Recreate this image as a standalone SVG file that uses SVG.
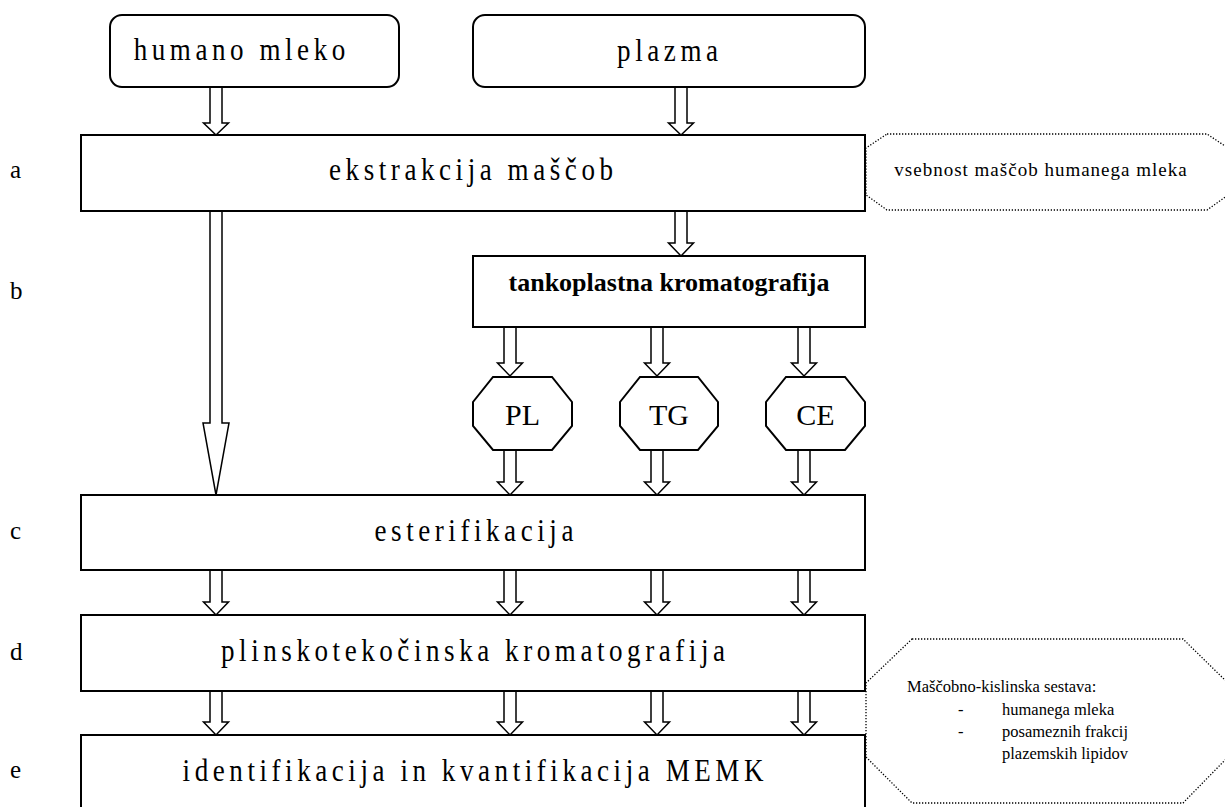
<svg xmlns="http://www.w3.org/2000/svg" width="1225" height="807" viewBox="0 0 1225 807">
<style>
.box{fill:#fff;stroke:#000;stroke-width:2}
.arr{fill:#fff;stroke:#000;stroke-width:1.5;stroke-linejoin:miter}
.note{fill:#fff;stroke:#000;stroke-width:1.3;stroke-dasharray:1.3 1.7}
.big{font-family:"Liberation Serif","Times New Roman",serif;font-size:32px;letter-spacing:5.4px;text-anchor:middle;fill:#000}
.lbl{font-family:"Liberation Serif","Times New Roman",serif;font-size:25px;fill:#000}
.oct{font-family:"Liberation Serif","Times New Roman",serif;font-size:30px;text-anchor:middle;fill:#000}
.bold{font-family:"Liberation Serif","Times New Roman",serif;font-size:26px;font-weight:bold;text-anchor:middle;fill:#000}
.sm{font-family:"Liberation Serif","Times New Roman",serif;font-size:16.5px;fill:#000}
</style>
<rect width="1225" height="807" fill="#fff"/>
<g id="row-labels">
<text class="lbl" x="10" y="178">a</text>
<text class="lbl" x="10" y="299">b</text>
<text class="lbl" x="10" y="539">c</text>
<text class="lbl" x="10" y="660">d</text>
<text class="lbl" x="10" y="778">e</text>
</g>
<g id="connectors">
<polygon class="arr" points="210,87 222,87 222,123 228.5,123 216,135 203.5,123 210,123"/>
<polygon class="arr" points="675,87 687,87 687,123 693.5,123 681,135 668.5,123 675,123"/>
<polygon class="arr" points="675,211 687,211 687,243 693.5,243 681,256 668.5,243 675,243"/>
<polygon class="arr" points="210,211 222,211 222,423 229,423 216,495 203,423 210,423"/>
<polygon class="arr" points="504,327 516,327 516,363 522.5,363 510,376 497.5,363 504,363"/>
<polygon class="arr" points="651,327 663,327 663,363 669.5,363 657,376 644.5,363 651,363"/>
<polygon class="arr" points="798,327 810,327 810,363 816.5,363 804,376 791.5,363 798,363"/>
<polygon class="arr" points="504,450 516,450 516,482 522.5,482 510,495 497.5,482 504,482"/>
<polygon class="arr" points="651,450 663,450 663,482 669.5,482 657,495 644.5,482 651,482"/>
<polygon class="arr" points="798,450 810,450 810,482 816.5,482 804,495 791.5,482 798,482"/>
<polygon class="arr" points="210,570 222,570 222,602 228.5,602 216,615 203.5,602 210,602"/>
<polygon class="arr" points="504,570 516,570 516,602 522.5,602 510,615 497.5,602 504,602"/>
<polygon class="arr" points="651,570 663,570 663,602 669.5,602 657,615 644.5,602 651,602"/>
<polygon class="arr" points="798,570 810,570 810,602 816.5,602 804,615 791.5,602 798,602"/>
<polygon class="arr" points="210,691 222,691 222,722 228.5,722 216,735 203.5,722 210,722"/>
<polygon class="arr" points="504,691 516,691 516,722 522.5,722 510,735 497.5,722 504,722"/>
<polygon class="arr" points="651,691 663,691 663,722 669.5,722 657,735 644.5,722 651,722"/>
<polygon class="arr" points="798,691 810,691 810,722 816.5,722 804,735 791.5,722 798,722"/>
</g>
<g id="humano-mleko">
<rect class="box" x="110" y="15" width="289" height="72" rx="12"/>
<text class="big" transform="scale(0.845,1)" x="286.1" y="60">humano mleko</text>
</g>
<g id="plazma">
<rect class="box" x="473" y="15" width="392" height="72" rx="12"/>
<text class="big" transform="scale(0.845,1)" x="792.7" y="61">plazma</text>
</g>
<g id="ekstrakcija">
<rect class="box" x="81" y="135" width="784" height="76"/>
<text class="big" transform="scale(0.845,1)" x="560.1" y="180">ekstrakcija maščob</text>
</g>
<g id="note-vsebnost">
<polygon class="note" points="887,134 1207,134 1228,148 1228,195 1207,210 887,210 866,195 866,148"/>
<text class="sm" x="1041" y="176" text-anchor="middle" style="font-size:19px;letter-spacing:1px">vsebnost maščob humanega mleka</text>
</g>
<g id="tlc">
<rect class="box" x="473" y="256" width="392" height="71"/>
<text class="bold" x="669" y="291">tankoplastna kromatografija</text>
</g>
<g id="PL">
<polygon class="box" points="493,377 552,377 572,402 572,426 552,450 493,450 473,426 473,402"/>
<text class="oct" x="522.5" y="425">PL</text>
</g>
<g id="TG">
<polygon class="box" points="640,377 698,377 718,402 718,426 698,450 640,450 620,426 620,402"/>
<text class="oct" x="669" y="425">TG</text>
</g>
<g id="CE">
<polygon class="box" points="786,377 845,377 865,402 865,426 845,450 786,450 766,426 766,402"/>
<text class="oct" x="815.5" y="425">CE</text>
</g>
<g id="esterifikacija">
<rect class="box" x="81" y="495" width="784" height="75"/>
<text class="big" transform="scale(0.845,1)" x="563.6" y="541">esterifikacija</text>
</g>
<g id="plinsko">
<rect class="box" x="81" y="615" width="784" height="76"/>
<text class="big" transform="scale(0.845,1)" x="562.5" y="661">plinskotekočinska kromatografija</text>
</g>
<g id="identifikacija">
<rect class="box" x="81" y="735" width="784" height="80"/>
<text class="big" transform="scale(0.845,1)" x="562.5" y="781">identifikacija in kvantifikacija MEMK</text>
</g>
<g id="note-sestava">
<polygon class="note" points="912,639 1183,639 1228,683 1228,757 1183,803 912,803 866,757 866,683"/>
<text class="sm" x="907" y="692">Maščobno-kislinska sestava:</text>
<text class="sm" x="958" y="715">-</text>
<text class="sm" x="1002" y="715">humanega mleka</text>
<text class="sm" x="958" y="737">-</text>
<text class="sm" x="1002" y="737">posameznih frakcij</text>
<text class="sm" x="1002" y="759">plazemskih lipidov</text>
</g>
</svg>
